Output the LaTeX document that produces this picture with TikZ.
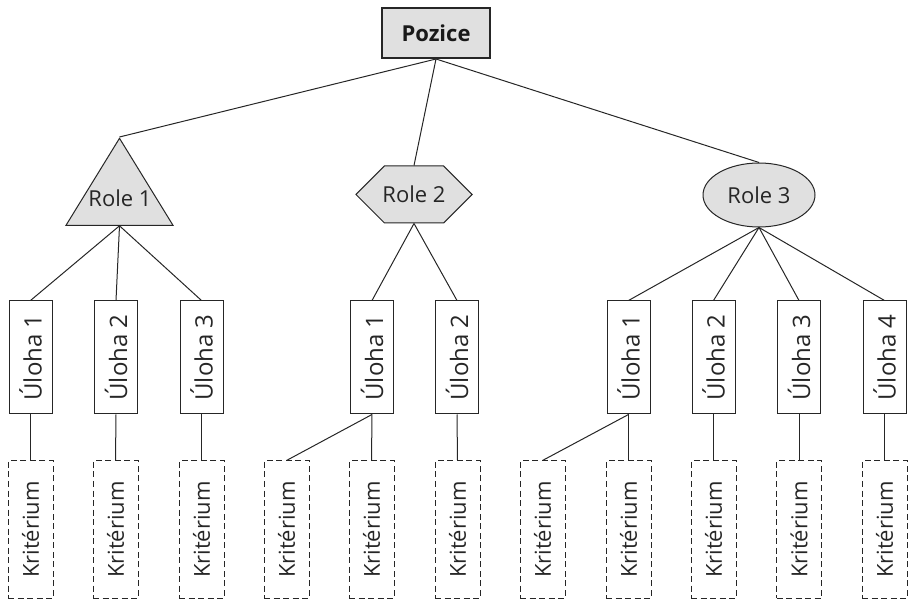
\documentclass[tikz,border=0pt]{standalone}
\usepackage{fontspec}
\setmainfont{Open Sans}
\usetikzlibrary{shapes.geometric,shapes.symbols}
\tikzset{
  txt/.style={font=\fontsize{24}{28}\selectfont, text=black!85},
  smalltxt/.style={font=\fontsize{22}{26}\selectfont, text=black!85},
  pozicebox/.style={draw=black!85, line width=2pt, fill=black!12, minimum width=108pt, minimum height=50pt, inner sep=0pt, text=black!90, font=\fontsize{22}{26}\selectfont\bfseries},
  rolebox/.style={smalltxt, draw=black!85, line width=1pt, fill=black!12, inner sep=0pt},
  ulohabox/.style={txt, draw=black!85, line width=1pt, fill=white, minimum width=43pt, minimum height=113pt, inner sep=0pt},
  kritbox/.style={smalltxt, draw=black!85, line width=1pt, dash pattern=on 6pt off 3.5pt, minimum width=45pt, minimum height=137pt, inner sep=0pt},
  link/.style={draw=black!85, line width=1pt}
}
\begin{document}
\begin{tikzpicture}[x=1pt,y=-1pt]
    \useasboundingbox (0,0) rectangle (908,601);

    % Pozice
    \node[pozicebox] (pozice) at (436,33) {Pozice};

    % Role
    \node[rolebox, isosceles triangle, isosceles triangle stretches, shape border rotate=90,
          minimum width=107pt, minimum height=87pt, anchor=apex] (role1) at (119.5,137) {};
    \node[smalltxt] (role1txt) at (120,198) {Role 1};
    \node[rolebox, signal, signal to=west and east, minimum width=116pt, minimum height=57pt,
          inner xsep=-2pt] (role2) at (414,194.5) {Role 2};
    \node[rolebox, ellipse, minimum width=112pt, minimum height=64pt] (role3) at (759,195) {Role 3};

    \draw[link] (pozice.south) -- (role1.apex);
    \draw[link] (pozice.south) -- (role2.north);
    \draw[link] (pozice.south) -- (role3.north);

    % Ulohy
    \node[ulohabox] (u11) at (30.5,357.5) {\rotatebox{90}{Úloha 1}};
    \node[ulohabox] (u12) at (116,357.5) {\rotatebox{90}{Úloha 2}};
    \node[ulohabox] (u13) at (201.5,357.5) {\rotatebox{90}{Úloha 3}};
    \node[ulohabox] (u21) at (372,357.5) {\rotatebox{90}{Úloha 1}};
    \node[ulohabox] (u22) at (457,357.5) {\rotatebox{90}{Úloha 2}};
    \node[ulohabox] (u31) at (628.5,357.5) {\rotatebox{90}{Úloha 1}};
    \node[ulohabox] (u32) at (713.5,357.5) {\rotatebox{90}{Úloha 2}};
    \node[ulohabox] (u33) at (799,357.5) {\rotatebox{90}{Úloha 3}};
    \node[ulohabox] (u34) at (884.5,357.5) {\rotatebox{90}{Úloha 4}};

    \draw[link] (role1.lower side) -- (u11.north);
    \draw[link] (role1.lower side) -- (u12.north);
    \draw[link] (role1.lower side) -- (u13.north);
    \draw[link] (role2.south) -- (u21.north);
    \draw[link] (role2.south) -- (u22.north);
    \draw[link] (role3.south) -- (u31.north);
    \draw[link] (role3.south) -- (u32.north);
    \draw[link] (role3.south) -- (u33.north);
    \draw[link] (role3.south) -- (u34.north);

    % Kriteria
    \node[kritbox] (k11) at (30.5,529.5) {\rotatebox{90}{Kritérium}};
    \node[kritbox] (k12) at (115.5,529.5) {\rotatebox{90}{Kritérium}};
    \node[kritbox] (k13) at (201.5,529.5) {\rotatebox{90}{Kritérium}};
    \node[kritbox] (k21a) at (286.5,529.5) {\rotatebox{90}{Kritérium}};
    \node[kritbox] (k21b) at (371.5,529.5) {\rotatebox{90}{Kritérium}};
    \node[kritbox] (k22) at (457.5,529.5) {\rotatebox{90}{Kritérium}};
    \node[kritbox] (k31a) at (542.5,529.5) {\rotatebox{90}{Kritérium}};
    \node[kritbox] (k31b) at (628.5,529.5) {\rotatebox{90}{Kritérium}};
    \node[kritbox] (k32) at (713.5,529.5) {\rotatebox{90}{Kritérium}};
    \node[kritbox] (k33) at (799,529.5) {\rotatebox{90}{Kritérium}};
    \node[kritbox] (k34) at (884.5,529.5) {\rotatebox{90}{Kritérium}};

    \draw[link] (u11.south) -- (k11.north);
    \draw[link] (u12.south) -- (k12.north);
    \draw[link] (u13.south) -- (k13.north);
    \draw[link] (u21.south) -- (k21a.north);
    \draw[link] (u21.south) -- (k21b.north);
    \draw[link] (u22.south) -- (k22.north);
    \draw[link] (u31.south) -- (k31a.north);
    \draw[link] (u31.south) -- (k31b.north);
    \draw[link] (u32.south) -- (k32.north);
    \draw[link] (u33.south) -- (k33.north);
    \draw[link] (u34.south) -- (k34.north);
\end{tikzpicture}
\end{document}
